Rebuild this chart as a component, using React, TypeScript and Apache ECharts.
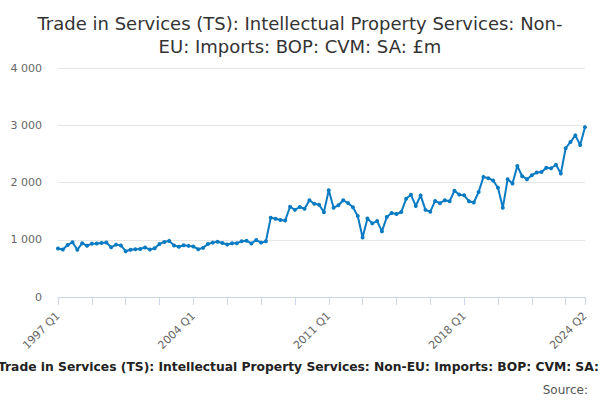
import { useEffect, useRef } from 'react';
import * as echarts from 'echarts';

const firstYear = 1997;
const lastYear = 2024;
const lastQuarter = 2;

const quarters: string[] = [];
for (let y = firstYear; y <= lastYear; y++) {
  for (let q = 1; q <= 4; q++) {
    if (y === lastYear && q > lastQuarter) break;
    quarters.push(`${y} Q${q}`);
  }
}

// £m, 1997 Q1 - 2007 Q4
const values1997to2007 = [
  848, 831, 910, 955, 825, 940, 895, 932, 936, 945, 952, 868,
  915, 901, 800, 825, 834, 840, 866, 828, 852, 927, 962, 980,
  900, 878, 905, 893, 882, 835, 858, 926, 950, 965, 942, 918,
  938, 940, 973, 981, 936, 995, 950, 972,
];

// 2008 Q1 - 2016 Q2
const values2008to2016 = [
  1385, 1367, 1344, 1338, 1577, 1522, 1572, 1542, 1690, 1628, 1612, 1482,
  1866, 1560, 1602, 1690, 1640, 1566, 1414, 1040, 1370, 1286, 1326, 1146,
  1396, 1466, 1450, 1484, 1715, 1785, 1590, 1775, 1522, 1490,
];

// 2016 Q3 - 2024 Q2
const values2016to2024 = [
  1678, 1638, 1690, 1673, 1857, 1788, 1776, 1673, 1650, 1834, 2098, 2075,
  2035, 1908, 1558, 2058, 1983, 2288, 2110, 2058, 2127, 2173, 2185, 2259,
  2248, 2311, 2156, 2598, 2708, 2823, 2656, 2967,
];

const seriesValues = [...values1997to2007, ...values2008to2016, ...values2016to2024];

const yTicks = [0, 1000, 2000, 3000, 4000];

const titleText = 'Trade in Services (TS): Intellectual Property Services: Non-\nEU: Imports: BOP: CVM: SA: £m';
const captionText = 'Trade in Services (TS): Intellectual Property Services: Non-EU: Imports: BOP: CVM: SA: £m';
const sourceText = 'Source:';

const font = '"DejaVu Sans", sans-serif';

function formatThousands(v: number) {
  return String(v).replace(/\B(?=(\d{3})+(?!\d))/g, ' ');
}

export default function App() {
  const chartRef = useRef<HTMLDivElement | null>(null);

  useEffect(() => {
    if (!chartRef.current) return;
    const chart = echarts.init(chartRef.current, undefined, { renderer: 'svg' });
    const lastIdx = quarters.length - 1;

    chart.setOption({
      animation: false,
      backgroundColor: '#ffffff',
      textStyle: { fontFamily: font },
      title: {
        text: titleText,
        left: 'center',
        top: 7,
        textStyle: {
          fontFamily: font,
          fontSize: 18,
          fontWeight: 'normal',
          color: '#333333',
          lineHeight: 23,
        },
      },
      grid: { left: 58, right: 15, top: 68, bottom: 103 },
      xAxis: {
        type: 'category',
        data: quarters,
        boundaryGap: false,
        axisLine: { lineStyle: { color: '#ccd6eb', width: 1 } },
        axisTick: {
          length: 8,
          interval: (idx: number) => idx % 7 === 0 || idx === lastIdx,
          lineStyle: { color: '#ccd6eb' },
        },
        axisLabel: {
          rotate: 45,
          margin: 17,
          color: '#666666',
          fontSize: 11,
          fontFamily: font,
          interval: (idx: number) => idx % 28 === 0 || idx === lastIdx,
        },
      },
      yAxis: {
        type: 'value',
        min: yTicks[0],
        max: yTicks[yTicks.length - 1],
        interval: yTicks[1] - yTicks[0],
        axisLine: { show: false },
        axisTick: { show: false },
        splitLine: { lineStyle: { color: '#e6e6e6' } },
        axisLabel: {
          color: '#666666',
          fontSize: 11,
          fontFamily: font,
          margin: 16,
          formatter: (v: number) => formatThousands(v),
        },
      },
      series: [
        {
          type: 'line',
          data: seriesValues,
          symbol: 'circle',
          symbolSize: 4,
          showAllSymbol: true,
          lineStyle: { color: '#0a7bc2', width: 2 },
          itemStyle: { color: '#0a7bc2' },
        },
      ],
      graphic: [
        {
          type: 'text',
          left: -2,
          top: 361,
          style: {
            text: captionText,
            fontFamily: font,
            fontSize: 12.3,
            fontWeight: 'bold',
            fill: '#222222',
          },
        },
        {
          type: 'text',
          right: 12,
          top: 384,
          style: {
            text: sourceText,
            fontFamily: font,
            fontSize: 12,
            fill: '#555555',
          },
        },
      ],
    });

    return () => {
      chart.dispose();
    };
  }, []);

  return (
    <div
      ref={chartRef}
      style={{ position: 'absolute', left: 0, top: 0, width: 600, height: 400 }}
    />
  );
}
